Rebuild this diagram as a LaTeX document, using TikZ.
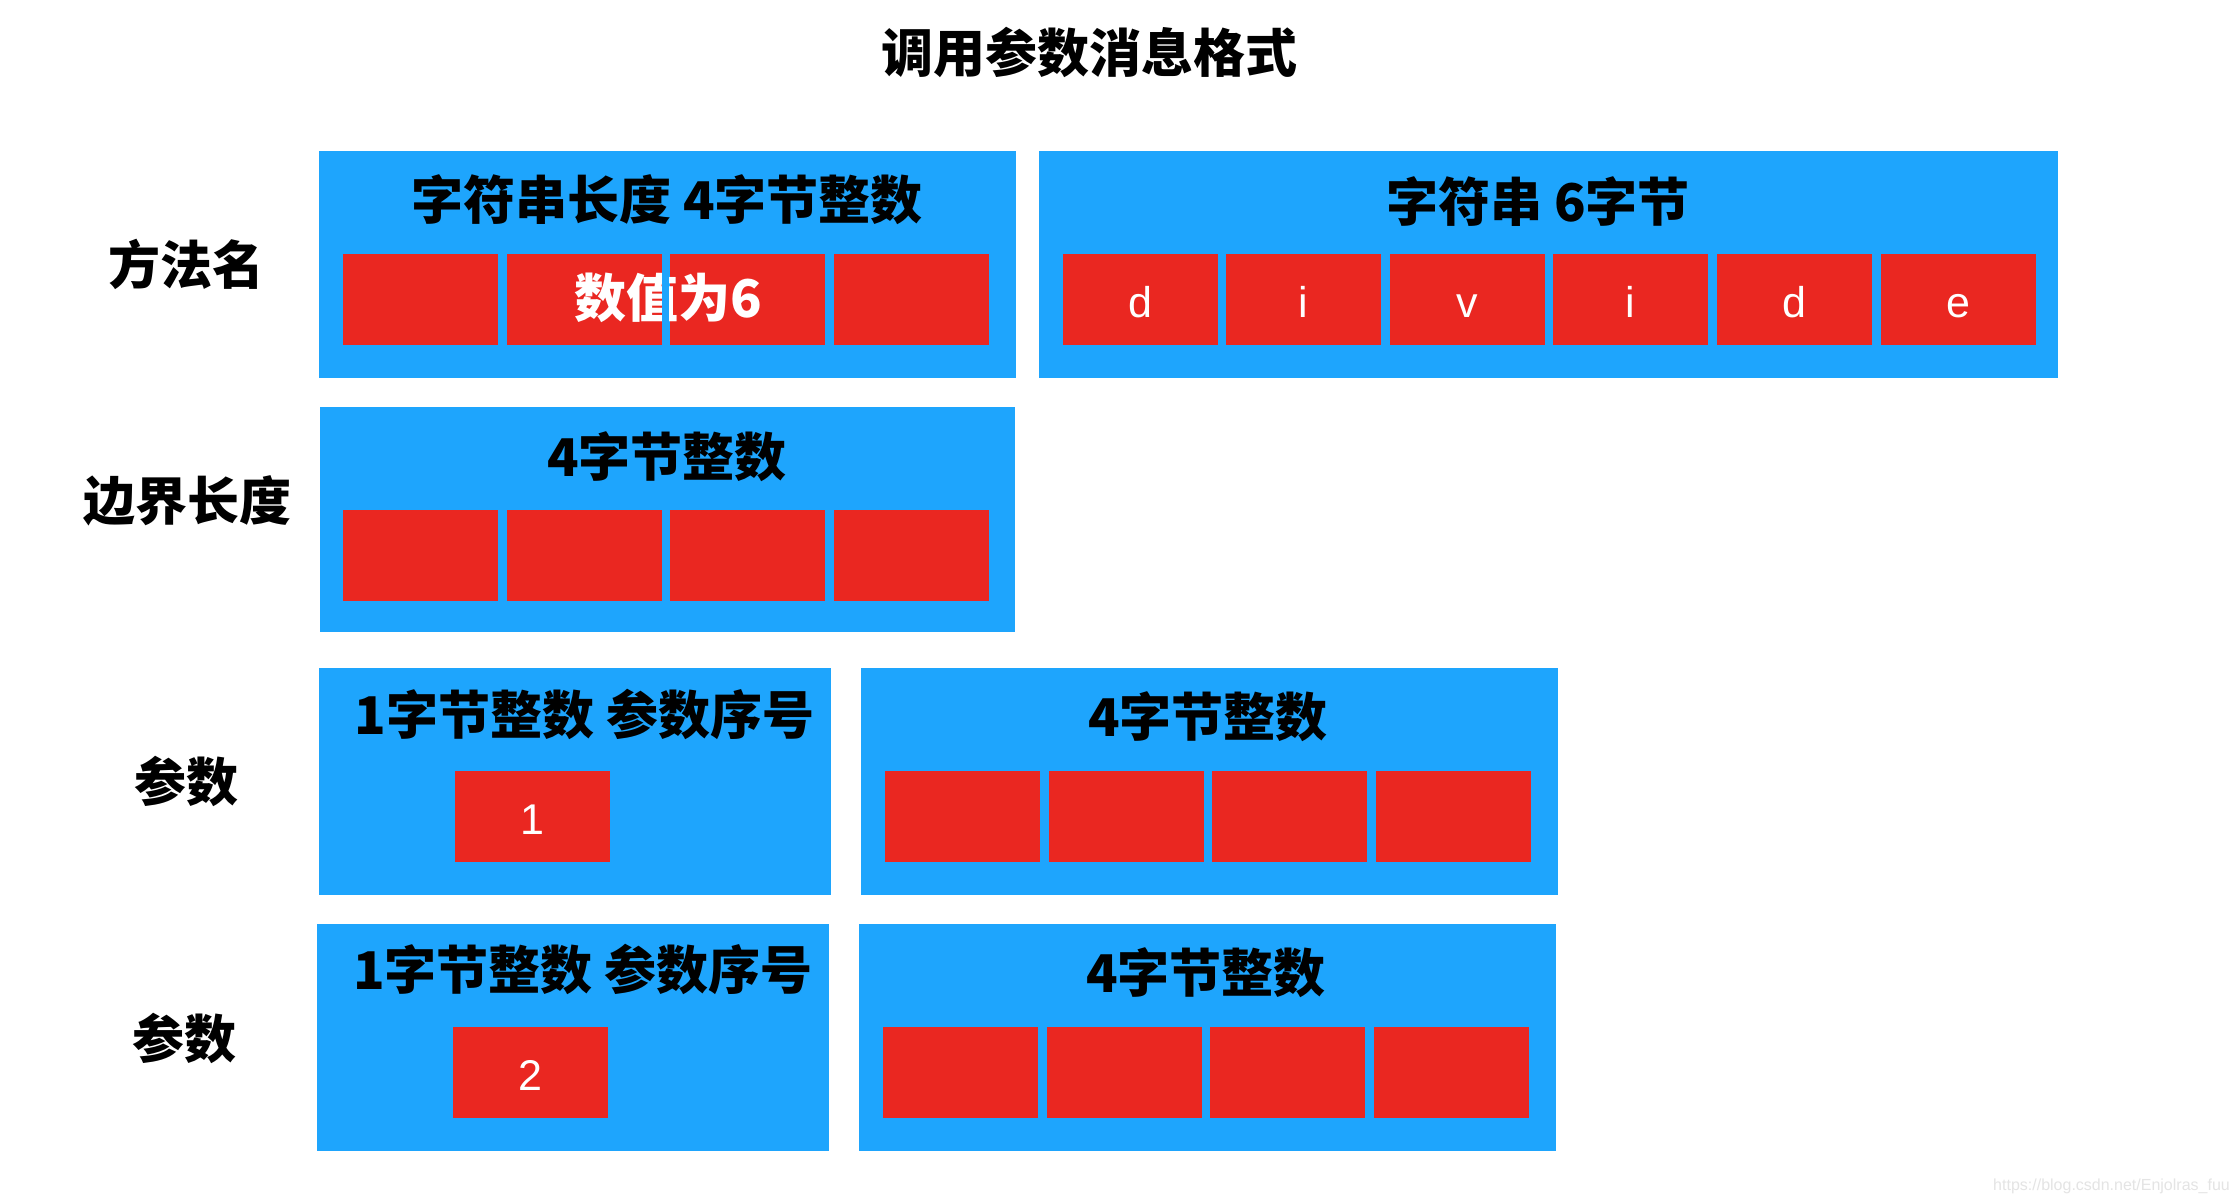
\documentclass[tikz,border=0pt]{standalone}
\usepackage{fontspec}
\newfontfamily\cjk{Noto Sans CJK SC}
\newfontfamily\lat{Liberation Sans}
\definecolor{bluebox}{RGB}{30,165,253}
\definecolor{redbox}{RGB}{234,39,33}
\definecolor{wmark}{RGB}{228,228,228}
\tikzset{
  panel/.style={fill=bluebox, draw=none, inner sep=0pt, minimum height=227pt},
  cell/.style={fill=redbox, draw=none, inner sep=0pt, minimum width=155pt, minimum height=91pt,
    text=white, font=\lat\fontsize{43}{48}\selectfont, text height=35pt, text depth=0pt},
  heading/.style={inner sep=0pt, font=\cjk\bfseries\fontsize{52}{60}\selectfont},
  rowlabel/.style={inner sep=0pt, font=\cjk\bfseries\fontsize{52}{60}\selectfont},
  valuetext/.style={inner sep=0pt, text=white, font=\cjk\bfseries\fontsize{52}{60}\selectfont}
}
\begin{document}
\begin{tikzpicture}[x=1pt,y=-1pt]
\path[use as bounding box, fill=white] (0,0) rectangle (2238,1202);

% title
\node[heading] (title) at (1089,52) {调用参数消息格式};

% row labels
\node[rowlabel] (l1) at (186,264) {方法名};
\node[rowlabel] (l2) at (187,501) {边界长度};
\node[rowlabel] (l3) at (186,781) {参数};
\node[rowlabel] (l4) at (184,1038) {参数};

% blue panels
\node[panel, minimum width=697pt] (b1) at (667.5,264.5) {};
\node[panel, minimum width=1019pt] (b2) at (1548.5,264.5) {};
\node[panel, minimum width=695pt, minimum height=225pt] (b3) at (667.5,519.5) {};
\node[panel, minimum width=512pt] (b4) at (575,781.5) {};
\node[panel, minimum width=697pt] (b5) at (1209.5,781.5) {};
\node[panel, minimum width=512pt] (b6) at (573,1037.5) {};
\node[panel, minimum width=697pt] (b7) at (1207.5,1037.5) {};

% headings
\node[heading] (h1) at (667,200) {字符串长度 4字节整数};
\node[heading] (h2) at (1538,202) {字符串 6字节};
\node[heading] (h3) at (667,457) {4字节整数};
\node[heading] (h4) at (584.5,714) {1字节整数 参数序号};
\node[heading] (h5) at (1208,717) {4字节整数};
\node[heading] (h6) at (583,969) {1字节整数 参数序号};
\node[heading] (h7) at (1206,973) {4字节整数};

% row 1 left cells
\node[cell] (r11) at (420.5,299.5) {};
\node[cell] (r12) at (584,299.5) {};
\node[cell] (r13) at (747,299.5) {};
\node[cell] (r14) at (911,299.5) {};
\node[valuetext] (v1) at (668,298) {数值为6};
% the panel gap shows through the value text
\fill[bluebox] (r12.north east) rectangle (r13.south west);

% row 1 right cells
\node[cell] (s1) at (1140.5,299.5) {d};
\node[cell] (s2) at (1303.5,299.5) {i};
\node[cell] (s3) at (1467,299.5) {v};
\node[cell] (s4) at (1630.5,299.5) {i};
\node[cell] (s5) at (1794,299.5) {d};
\node[cell] (s6) at (1958,299.5) {e};

% row 2 cells
\node[cell] (r21) at (420.5,555.5) {};
\node[cell] (r22) at (584,555.5) {};
\node[cell] (r23) at (747,555.5) {};
\node[cell] (r24) at (911,555.5) {};

% row 3 cells
\node[cell] (p1) at (532.5,816.5) {1};
\node[cell] (r31) at (962.5,816.5) {};
\node[cell] (r32) at (1126,816.5) {};
\node[cell] (r33) at (1289.5,816.5) {};
\node[cell] (r34) at (1453.5,816.5) {};

% row 4 cells
\node[cell] (p2) at (530.5,1072.5) {2};
\node[cell] (r41) at (960.5,1072.5) {};
\node[cell] (r42) at (1124,1072.5) {};
\node[cell] (r43) at (1287.5,1072.5) {};
\node[cell] (r44) at (1451,1072.5) {};

% watermark
\node[anchor=base east, inner sep=0pt, text=wmark, font=\lat\fontsize{16}{18}\selectfont] (wm) at (2230,1190) {https://blog.csdn.net/Enjolras\_fuu};
\end{tikzpicture}
\end{document}
